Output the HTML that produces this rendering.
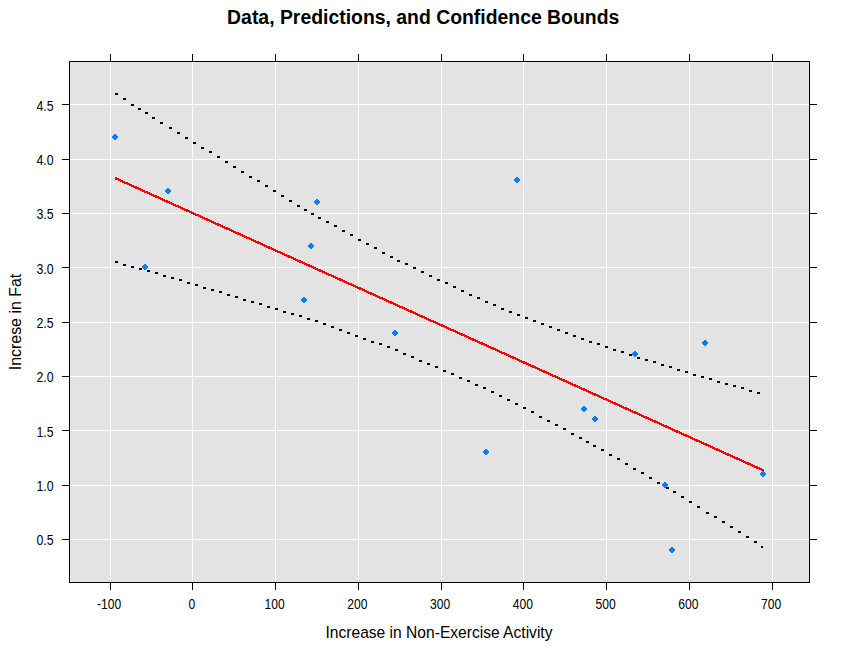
<!DOCTYPE html><html><head><meta charset="utf-8"><style>html,body{margin:0;padding:0;background:#fff;width:848px;height:653px;overflow:hidden}svg{display:block}text{font-family:"Liberation Sans",sans-serif;fill:#000}</style></head><body>
<svg width="848" height="653" viewBox="0 0 848 653">
<rect x="0" y="0" width="848" height="653" fill="#fff"/>
<rect x="69" y="61" width="741" height="522" fill="#e3e3e3"/>
<g shape-rendering="crispEdges" fill="#fff">
<rect x="110" y="62" width="1" height="520"/>
<rect x="192" y="62" width="1" height="520"/>
<rect x="275" y="62" width="1" height="520"/>
<rect x="358" y="62" width="1" height="520"/>
<rect x="441" y="62" width="1" height="520"/>
<rect x="523" y="62" width="1" height="520"/>
<rect x="606" y="62" width="1" height="520"/>
<rect x="689" y="62" width="1" height="520"/>
<rect x="772" y="62" width="1" height="520"/>
<rect x="70" y="539" width="739" height="1"/>
<rect x="70" y="485" width="739" height="1"/>
<rect x="70" y="430" width="739" height="1"/>
<rect x="70" y="376" width="739" height="1"/>
<rect x="70" y="322" width="739" height="1"/>
<rect x="70" y="267" width="739" height="1"/>
<rect x="70" y="213" width="739" height="1"/>
<rect x="70" y="159" width="739" height="1"/>
<rect x="70" y="104" width="739" height="1"/>
</g>
<g shape-rendering="crispEdges" fill="#000">
<rect x="69" y="61" width="741" height="1"/><rect x="69" y="582" width="741" height="1"/>
<rect x="69" y="61" width="1" height="522"/><rect x="809" y="61" width="1" height="522"/>
<rect x="110" y="54" width="1" height="7"/><rect x="110" y="583" width="1" height="7"/>
<rect x="192" y="54" width="1" height="7"/><rect x="192" y="583" width="1" height="7"/>
<rect x="275" y="54" width="1" height="7"/><rect x="275" y="583" width="1" height="7"/>
<rect x="358" y="54" width="1" height="7"/><rect x="358" y="583" width="1" height="7"/>
<rect x="441" y="54" width="1" height="7"/><rect x="441" y="583" width="1" height="7"/>
<rect x="523" y="54" width="1" height="7"/><rect x="523" y="583" width="1" height="7"/>
<rect x="606" y="54" width="1" height="7"/><rect x="606" y="583" width="1" height="7"/>
<rect x="689" y="54" width="1" height="7"/><rect x="689" y="583" width="1" height="7"/>
<rect x="772" y="54" width="1" height="7"/><rect x="772" y="583" width="1" height="7"/>
<rect x="62" y="539" width="7" height="1"/><rect x="810" y="539" width="7" height="1"/>
<rect x="62" y="485" width="7" height="1"/><rect x="810" y="485" width="7" height="1"/>
<rect x="62" y="430" width="7" height="1"/><rect x="810" y="430" width="7" height="1"/>
<rect x="62" y="376" width="7" height="1"/><rect x="810" y="376" width="7" height="1"/>
<rect x="62" y="322" width="7" height="1"/><rect x="810" y="322" width="7" height="1"/>
<rect x="62" y="267" width="7" height="1"/><rect x="810" y="267" width="7" height="1"/>
<rect x="62" y="213" width="7" height="1"/><rect x="810" y="213" width="7" height="1"/>
<rect x="62" y="159" width="7" height="1"/><rect x="810" y="159" width="7" height="1"/>
<rect x="62" y="104" width="7" height="1"/><rect x="810" y="104" width="7" height="1"/>
</g>
<g shape-rendering="crispEdges" fill="#000">
<rect x="115" y="93" width="3" height="2"/>
<rect x="123" y="98" width="3" height="2"/>
<rect x="131" y="104" width="3" height="2"/>
<rect x="138" y="108" width="3" height="2"/>
<rect x="145" y="112" width="3" height="2"/>
<rect x="152" y="117" width="3" height="2"/>
<rect x="160" y="122" width="3" height="2"/>
<rect x="169" y="127" width="3" height="2"/>
<rect x="177" y="132" width="3" height="2"/>
<rect x="185" y="137" width="3" height="2"/>
<rect x="193" y="142" width="3" height="2"/>
<rect x="201" y="147" width="3" height="2"/>
<rect x="209" y="151" width="3" height="2"/>
<rect x="217" y="156" width="3" height="2"/>
<rect x="225" y="161" width="3" height="2"/>
<rect x="233" y="166" width="3" height="2"/>
<rect x="241" y="171" width="3" height="2"/>
<rect x="249" y="176" width="3" height="2"/>
<rect x="257" y="180" width="3" height="2"/>
<rect x="265" y="185" width="3" height="2"/>
<rect x="273" y="190" width="3" height="2"/>
<rect x="281" y="195" width="3" height="2"/>
<rect x="289" y="200" width="3" height="2"/>
<rect x="297" y="205" width="3" height="2"/>
<rect x="304" y="209" width="3" height="2"/>
<rect x="311" y="213" width="3" height="2"/>
<rect x="318" y="217" width="3" height="2"/>
<rect x="326" y="221" width="3" height="2"/>
<rect x="334" y="225" width="3" height="2"/>
<rect x="342" y="230" width="3" height="2"/>
<rect x="350" y="234" width="3" height="2"/>
<rect x="358" y="239" width="3" height="2"/>
<rect x="366" y="243" width="3" height="2"/>
<rect x="374" y="247" width="3" height="2"/>
<rect x="382" y="252" width="3" height="2"/>
<rect x="390" y="256" width="3" height="2"/>
<rect x="397" y="260" width="3" height="2"/>
<rect x="405" y="263" width="3" height="2"/>
<rect x="413" y="267" width="3" height="2"/>
<rect x="421" y="271" width="3" height="2"/>
<rect x="429" y="275" width="3" height="2"/>
<rect x="437" y="279" width="3" height="2"/>
<rect x="445" y="282" width="3" height="2"/>
<rect x="453" y="286" width="3" height="2"/>
<rect x="461" y="290" width="3" height="2"/>
<rect x="469" y="294" width="3" height="2"/>
<rect x="477" y="297" width="3" height="2"/>
<rect x="485" y="301" width="3" height="2"/>
<rect x="493" y="304" width="3" height="2"/>
<rect x="501" y="308" width="3" height="2"/>
<rect x="509" y="311" width="3" height="2"/>
<rect x="517" y="314" width="3" height="2"/>
<rect x="525" y="317" width="3" height="2"/>
<rect x="533" y="320" width="3" height="2"/>
<rect x="541" y="323" width="3" height="2"/>
<rect x="549" y="326" width="3" height="2"/>
<rect x="557" y="329" width="3" height="2"/>
<rect x="565" y="332" width="3" height="2"/>
<rect x="573" y="335" width="3" height="2"/>
<rect x="581" y="338" width="3" height="2"/>
<rect x="589" y="341" width="3" height="2"/>
<rect x="597" y="343" width="3" height="2"/>
<rect x="605" y="346" width="3" height="2"/>
<rect x="613" y="349" width="3" height="2"/>
<rect x="621" y="351" width="3" height="2"/>
<rect x="629" y="354" width="3" height="2"/>
<rect x="637" y="357" width="3" height="2"/>
<rect x="645" y="359" width="3" height="2"/>
<rect x="653" y="361" width="3" height="2"/>
<rect x="661" y="364" width="3" height="2"/>
<rect x="669" y="366" width="3" height="2"/>
<rect x="677" y="369" width="3" height="2"/>
<rect x="685" y="371" width="3" height="2"/>
<rect x="693" y="374" width="3" height="2"/>
<rect x="701" y="376" width="3" height="2"/>
<rect x="709" y="378" width="3" height="2"/>
<rect x="717" y="381" width="3" height="2"/>
<rect x="725" y="383" width="3" height="2"/>
<rect x="733" y="385" width="3" height="2"/>
<rect x="741" y="387" width="3" height="2"/>
<rect x="749" y="390" width="3" height="2"/>
<rect x="757" y="392" width="3" height="2"/>
<rect x="115" y="261" width="3" height="2"/>
<rect x="123" y="264" width="3" height="2"/>
<rect x="131" y="266" width="3" height="2"/>
<rect x="139" y="268" width="3" height="2"/>
<rect x="147" y="270" width="3" height="2"/>
<rect x="155" y="272" width="3" height="2"/>
<rect x="163" y="275" width="3" height="2"/>
<rect x="171" y="277" width="3" height="2"/>
<rect x="179" y="279" width="3" height="2"/>
<rect x="187" y="282" width="3" height="2"/>
<rect x="195" y="284" width="3" height="2"/>
<rect x="203" y="287" width="3" height="2"/>
<rect x="211" y="289" width="3" height="2"/>
<rect x="219" y="291" width="3" height="2"/>
<rect x="227" y="294" width="3" height="2"/>
<rect x="235" y="296" width="3" height="2"/>
<rect x="243" y="299" width="3" height="2"/>
<rect x="251" y="301" width="3" height="2"/>
<rect x="259" y="303" width="3" height="2"/>
<rect x="267" y="306" width="3" height="2"/>
<rect x="275" y="308" width="3" height="2"/>
<rect x="283" y="311" width="3" height="2"/>
<rect x="291" y="313" width="3" height="2"/>
<rect x="299" y="315" width="3" height="2"/>
<rect x="307" y="318" width="3" height="2"/>
<rect x="315" y="320" width="3" height="2"/>
<rect x="323" y="323" width="3" height="2"/>
<rect x="331" y="326" width="3" height="2"/>
<rect x="339" y="329" width="3" height="2"/>
<rect x="347" y="332" width="3" height="2"/>
<rect x="355" y="335" width="3" height="2"/>
<rect x="363" y="338" width="3" height="2"/>
<rect x="371" y="341" width="3" height="2"/>
<rect x="379" y="343" width="3" height="2"/>
<rect x="387" y="346" width="3" height="2"/>
<rect x="395" y="349" width="3" height="2"/>
<rect x="403" y="353" width="3" height="2"/>
<rect x="411" y="356" width="3" height="2"/>
<rect x="419" y="360" width="3" height="2"/>
<rect x="427" y="363" width="3" height="2"/>
<rect x="435" y="366" width="3" height="2"/>
<rect x="443" y="370" width="3" height="2"/>
<rect x="451" y="373" width="3" height="2"/>
<rect x="459" y="377" width="3" height="2"/>
<rect x="467" y="380" width="3" height="2"/>
<rect x="475" y="384" width="3" height="2"/>
<rect x="483" y="387" width="3" height="2"/>
<rect x="491" y="391" width="3" height="2"/>
<rect x="499" y="395" width="3" height="2"/>
<rect x="507" y="399" width="3" height="2"/>
<rect x="515" y="403" width="3" height="2"/>
<rect x="523" y="407" width="3" height="2"/>
<rect x="531" y="411" width="3" height="2"/>
<rect x="539" y="416" width="3" height="2"/>
<rect x="547" y="420" width="3" height="2"/>
<rect x="555" y="424" width="3" height="2"/>
<rect x="563" y="428" width="3" height="2"/>
<rect x="571" y="433" width="3" height="2"/>
<rect x="579" y="437" width="3" height="2"/>
<rect x="586" y="441" width="3" height="2"/>
<rect x="593" y="445" width="3" height="2"/>
<rect x="601" y="449" width="3" height="2"/>
<rect x="609" y="454" width="3" height="2"/>
<rect x="617" y="458" width="3" height="2"/>
<rect x="625" y="463" width="3" height="2"/>
<rect x="633" y="468" width="3" height="2"/>
<rect x="641" y="472" width="3" height="2"/>
<rect x="649" y="477" width="3" height="2"/>
<rect x="657" y="482" width="3" height="2"/>
<rect x="666" y="487" width="3" height="2"/>
<rect x="673" y="491" width="3" height="2"/>
<rect x="681" y="496" width="3" height="2"/>
<rect x="689" y="501" width="3" height="2"/>
<rect x="697" y="506" width="3" height="2"/>
<rect x="706" y="512" width="3" height="2"/>
<rect x="714" y="516" width="3" height="2"/>
<rect x="722" y="521" width="3" height="2"/>
<rect x="730" y="526" width="3" height="2"/>
<rect x="738" y="531" width="3" height="2"/>
<rect x="746" y="536" width="3" height="2"/>
<rect x="754" y="541" width="3" height="2"/>
<rect x="761" y="546" width="2" height="2"/>
</g>
<line x1="115.12" y1="178.09" x2="763.88" y2="470.64" stroke="#ff0000" stroke-width="2.3" shape-rendering="crispEdges"/>
<g shape-rendering="crispEdges" fill="#0080ff">
<rect x="114" y="134" width="2" height="6"/><rect x="113" y="135" width="4" height="4"/><rect x="112" y="136" width="6" height="2"/>
<rect x="144" y="264" width="2" height="6"/><rect x="143" y="265" width="4" height="4"/><rect x="142" y="266" width="6" height="2"/>
<rect x="167" y="188" width="2" height="6"/><rect x="166" y="189" width="4" height="4"/><rect x="165" y="190" width="6" height="2"/>
<rect x="303" y="297" width="2" height="6"/><rect x="302" y="298" width="4" height="4"/><rect x="301" y="299" width="6" height="2"/>
<rect x="310" y="243" width="2" height="6"/><rect x="309" y="244" width="4" height="4"/><rect x="308" y="245" width="6" height="2"/>
<rect x="316" y="199" width="2" height="6"/><rect x="315" y="200" width="4" height="4"/><rect x="314" y="201" width="6" height="2"/>
<rect x="394" y="330" width="2" height="6"/><rect x="393" y="331" width="4" height="4"/><rect x="392" y="332" width="6" height="2"/>
<rect x="485" y="449" width="2" height="6"/><rect x="484" y="450" width="4" height="4"/><rect x="483" y="451" width="6" height="2"/>
<rect x="516" y="177" width="2" height="6"/><rect x="515" y="178" width="4" height="4"/><rect x="514" y="179" width="6" height="2"/>
<rect x="583" y="406" width="2" height="6"/><rect x="582" y="407" width="4" height="4"/><rect x="581" y="408" width="6" height="2"/>
<rect x="594" y="416" width="2" height="6"/><rect x="593" y="417" width="4" height="4"/><rect x="592" y="418" width="6" height="2"/>
<rect x="634" y="351" width="2" height="6"/><rect x="633" y="352" width="4" height="4"/><rect x="632" y="353" width="6" height="2"/>
<rect x="664" y="482" width="2" height="6"/><rect x="663" y="483" width="4" height="4"/><rect x="662" y="484" width="6" height="2"/>
<rect x="671" y="547" width="2" height="6"/><rect x="670" y="548" width="4" height="4"/><rect x="669" y="549" width="6" height="2"/>
<rect x="704" y="340" width="2" height="6"/><rect x="703" y="341" width="4" height="4"/><rect x="702" y="342" width="6" height="2"/>
<rect x="762" y="471" width="2" height="6"/><rect x="761" y="472" width="4" height="4"/><rect x="760" y="473" width="6" height="2"/>
</g>
<g font-size="13" text-anchor="middle">
<text transform="translate(109.05,609.2) scale(0.93,1.1)">-100</text>
<text transform="translate(191.80,609.2) scale(0.93,1.1)">0</text>
<text transform="translate(274.55,609.2) scale(0.93,1.1)">100</text>
<text transform="translate(357.30,609.2) scale(0.93,1.1)">200</text>
<text transform="translate(440.05,609.2) scale(0.93,1.1)">300</text>
<text transform="translate(522.80,609.2) scale(0.93,1.1)">400</text>
<text transform="translate(605.55,609.2) scale(0.93,1.1)">500</text>
<text transform="translate(688.30,609.2) scale(0.93,1.1)">600</text>
<text transform="translate(771.05,609.2) scale(0.93,1.1)">700</text>
</g>
<g font-size="13" text-anchor="end">
<text transform="translate(53.6,545.34) scale(0.95,1.1)">0.5</text>
<text transform="translate(53.6,491.02) scale(0.95,1.1)">1.0</text>
<text transform="translate(53.6,436.69) scale(0.95,1.1)">1.5</text>
<text transform="translate(53.6,382.37) scale(0.95,1.1)">2.0</text>
<text transform="translate(53.6,328.04) scale(0.95,1.1)">2.5</text>
<text transform="translate(53.6,273.72) scale(0.95,1.1)">3.0</text>
<text transform="translate(53.6,219.39) scale(0.95,1.1)">3.5</text>
<text transform="translate(53.6,165.07) scale(0.95,1.1)">4.0</text>
<text transform="translate(53.6,110.74) scale(0.95,1.1)">4.5</text>
</g>
<text x="423.2" y="23.8" font-size="19.4" font-weight="bold" text-anchor="middle">Data, Predictions, and Confidence Bounds</text>
<text x="439" y="637.8" font-size="16.3" text-anchor="middle" textLength="227" lengthAdjust="spacingAndGlyphs">Increase in Non-Exercise Activity</text>
<text transform="translate(21,322) rotate(-90)" font-size="16.3" text-anchor="middle" textLength="96.5" lengthAdjust="spacingAndGlyphs">Increse in Fat</text>
</svg></body></html>
